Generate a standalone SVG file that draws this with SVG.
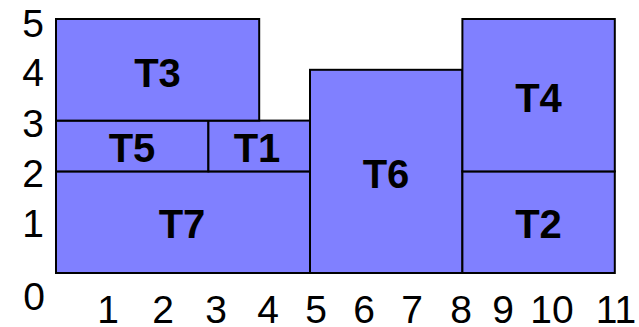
<svg xmlns="http://www.w3.org/2000/svg" width="639" height="327" viewBox="0 0 639 327">
  <style>
    .task rect { fill: #8080ff; stroke: #000; stroke-width: 2; }
    .task text { font-family: "Liberation Sans", Arial, sans-serif; font-weight: bold; font-size: 40px; text-anchor: middle; fill: #000; }
    .axis text { font-family: "Liberation Sans", Arial, sans-serif; font-size: 39px; fill: #000; }
    .ylab text { text-anchor: end; }
    .xlab text { text-anchor: middle; }
  </style>
  <rect width="639" height="327" fill="#fff"/>

  <!-- tasks: one unit = 50.8px, origin at (56, 273) -->
  <g id="T7" class="task">
    <rect x="56" y="171.4" width="254" height="101.6"/>
    <text x="182" y="238">T7</text>
  </g>
  <g id="T5" class="task">
    <rect x="56" y="120.6" width="152.4" height="50.8"/>
    <text x="132" y="162">T5</text>
  </g>
  <g id="T1" class="task">
    <rect x="208.4" y="120.6" width="101.6" height="50.8"/>
    <text x="257" y="162">T1</text>
  </g>
  <g id="T3" class="task">
    <rect x="56" y="19" width="203.2" height="101.6"/>
    <text x="157.5" y="87">T3</text>
  </g>
  <g id="T6" class="task">
    <rect x="310" y="69.8" width="152.4" height="203.2"/>
    <text x="386" y="188">T6</text>
  </g>
  <g id="T2" class="task">
    <rect x="462.4" y="171.4" width="152.4" height="101.6"/>
    <text x="538.5" y="238">T2</text>
  </g>
  <g id="T4" class="task">
    <rect x="462.4" y="19" width="152.4" height="152.4"/>
    <text x="538.5" y="112">T4</text>
  </g>

  <!-- vertical axis labels -->
  <g class="axis ylab">
    <text x="44" y="37">5</text>
    <text x="44" y="86">4</text>
    <text x="44" y="137">3</text>
    <text x="44" y="187">2</text>
    <text x="44" y="237">1</text>
    <text x="45" y="310">0</text>
  </g>

  <!-- horizontal axis labels -->
  <g class="axis xlab">
    <text x="108" y="323">1</text>
    <text x="163" y="323">2</text>
    <text x="216" y="323">3</text>
    <text x="268" y="323">4</text>
    <text x="316" y="323">5</text>
    <text x="364" y="323">6</text>
    <text x="412" y="323">7</text>
    <text x="461" y="323">8</text>
    <text x="503" y="323">9</text>
    <text x="552" y="323">10</text>
    <text x="616" y="323">11</text>
  </g>
</svg>
